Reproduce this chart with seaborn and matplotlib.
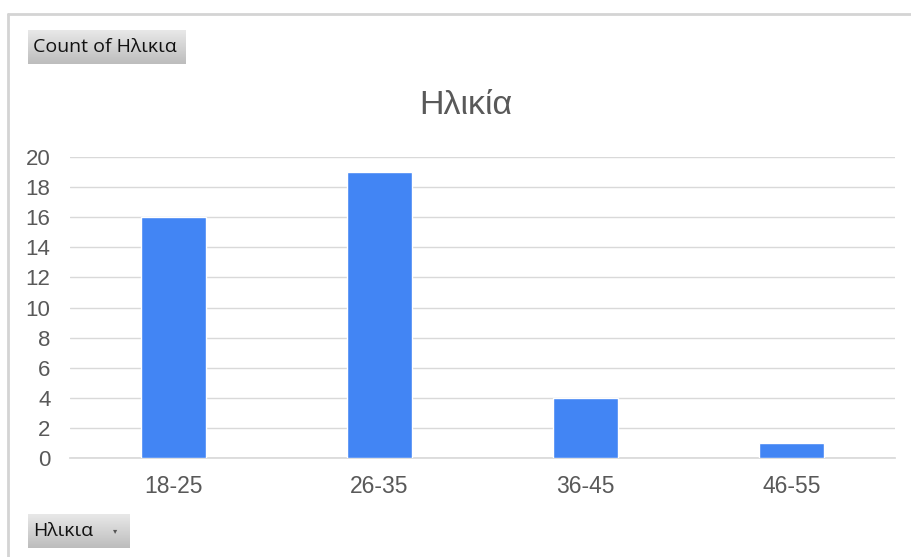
import numpy as np
import pandas as pd
import matplotlib
matplotlib.use("Agg")
import matplotlib.pyplot as plt
import seaborn as sns
from matplotlib.lines import Line2D

categories = ["18-25", "26-35", "36-45", "46-55"]
counts = [16, 19, 4, 1]
title = "Ηλικία"
button_top = "Count of Ηλικια"
button_bottom = "Ηλικια"

sns.set_theme(style="white")
plt.rcParams['font.family'] = ['Liberation Sans', 'DejaVu Sans']

W, H = 911, 557
fig = plt.figure(figsize=(W / 100, H / 100), dpi=100)
fig.patch.set_facecolor("white")

# outer border lines
fig.add_artist(Line2D([8 / W, 8 / W], [0, 1 - 14 / H], color="#d4d4d4", lw=2, transform=fig.transFigure))
fig.add_artist(Line2D([8 / W, 1], [1 - 14 / H, 1 - 14 / H], color="#d4d4d4", lw=2, transform=fig.transFigure))

ax = fig.add_axes([70 / W, 1 - 458 / H, (895 - 70) / W, (458 - 157) / H])
df = pd.DataFrame({"cat": categories, "count": counts})
sns.barplot(data=df, x="cat", y="count", color="#4285F4", width=0.315, saturation=1, ax=ax, zorder=3)
ax.set_xlim(-0.5, 3.5)
ax.set_ylim(0, 20)
ax.set_yticks(range(0, 21, 2))
ax.yaxis.grid(True, color="#d9d9d9", lw=1, zorder=0)
ax.set_axisbelow(True)
for s in ["top", "right", "left"]:
    ax.spines[s].set_visible(False)
ax.spines["bottom"].set_color("#d9d9d9")
ax.set_xlabel("")
ax.set_ylabel("")
ax.tick_params(axis="both", length=0, labelcolor="#595959")
ax.tick_params(axis="y", pad=14, labelsize=16)
ax.tick_params(axis="x", pad=12, labelsize=16.5)

fig.text(466 / W, 1 - 106 / H, title, ha="center", va="center", fontsize=24.5, color="#595959")

# buttons with gradient
grad = np.linspace(0, 1, 50).reshape(-1, 1)
cmap = matplotlib.colors.LinearSegmentedColormap.from_list("g", ["#e8e8e8", "#bdbdbd"])

def button(x0, y0, x1, y1, text, arrow=False):
    bax = fig.add_axes([x0 / W, 1 - y1 / H, (x1 - x0) / W, (y1 - y0) / H])
    bax.imshow(grad, aspect="auto", cmap=cmap, extent=[0, 1, 0, 1])
    bax.set_axis_off()
    bax.text(5 / (x1 - x0), 0.5, text, ha="left", va="center", fontsize=14, color="#111111",
             family=["Open Sans", "DejaVu Sans"], transform=bax.transAxes)
    if arrow:
        bax.text(87 / (x1 - x0), 0.5, "▾", ha="center", va="center", fontsize=6, color="#555555",
                 family=["DejaVu Sans"], transform=bax.transAxes)

button(28, 30, 186, 64, button_top)
button(28, 514, 130, 548, button_bottom, arrow=True)

fig.savefig("out.png", dpi=100, facecolor="white")
